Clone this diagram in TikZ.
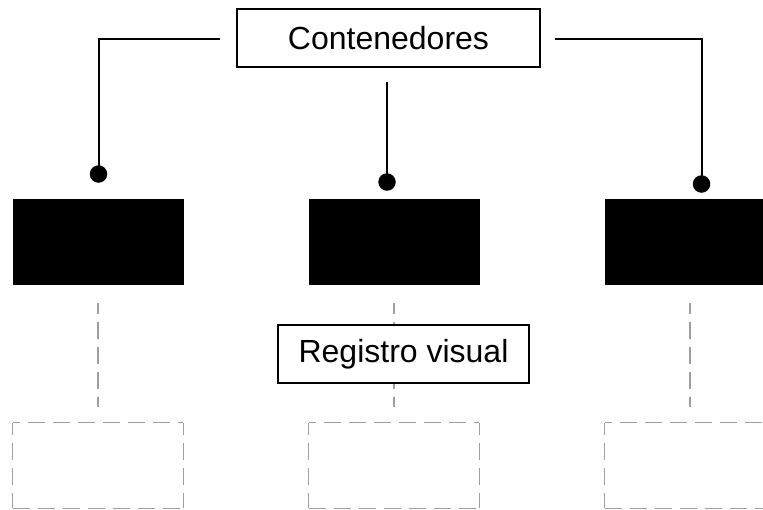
\documentclass[tikz,border=0pt]{standalone}
\usepackage{fontspec}
\setmainfont{Liberation Sans}
\begin{document}
\begin{tikzpicture}[x=1pt,y=-1pt,
  lbl/.style={draw=black,line width=1.2pt,fill=white,inner sep=0pt,
    font=\fontsize{32}{38}\selectfont},
  blk/.style={fill=black,draw=black,line width=1pt,minimum width=170pt,minimum height=85pt,inner sep=0pt},
  slot/.style={minimum width=170pt,minimum height=85pt,inner sep=0pt},
  conn/.style={draw=black,line width=2pt},
  guide/.style={draw=black!38,line width=1.3pt,dash pattern=on 17pt off 8pt},
  dotc/.style={circle,fill=black,minimum size=17.5pt,inner sep=0pt}]
\clip (0,0) rectangle (763,509);
\fill[white] (0,0) rectangle (763,509);

% top label and its three branches
\node[lbl,minimum width=303pt,minimum height=58pt] (ct) at (388.5,38) {Contenedores};
\node[dotc] (p1) at (98.5,174) {};
\node[dotc] (p2) at (387,182) {};
\node[dotc] (p3) at (701.5,184) {};
\coordinate (l1) at (220,38.5);
\coordinate (l2) at (387,81.5);
\coordinate (l3) at (555,38.5);
\draw[conn] (l1) -| (p1.center);
\draw[conn] (l2) -- (p2.center);
\draw[conn] (l3) -| (p3.center);

% filled containers
\node[blk] (b1) at (98,241.5) {};
\node[blk] (b2) at (394,241.5) {};
\node[blk] (b3) at (690,241.5) {};

% empty dashed containers, each side dashed on its own
\foreach \n/\cx in {d1/98,d2/394,d3/690}{
  \node[slot] (\n) at (\cx,465.5) {};
  \draw[guide,dash phase=10pt] (\n.north west) -- (\n.north east);
  \draw[guide,dash phase=5pt] (\n.north east) -- (\n.south east);
  \draw[guide,dash phase=5pt] (\n.north west) -- (\n.south west);
  \draw[guide] (\n.south west) -- (\n.south east);
}

% dashed links between the rows
\draw[guide,dash phase=6pt,shorten <=18pt,shorten >=16pt] (b1.south) -- (d1.north);
\draw[guide,dash phase=6pt,shorten <=18pt,shorten >=16pt] (b2.south) -- (d2.north);
\draw[guide,dash phase=6pt,shorten <=18pt,shorten >=16pt] (b3.south) -- (d3.north);

% middle label
\node[lbl,minimum width=251pt,minimum height=58pt] (rv) at (403.5,354) {Registro visual};
\end{tikzpicture}
\end{document}
